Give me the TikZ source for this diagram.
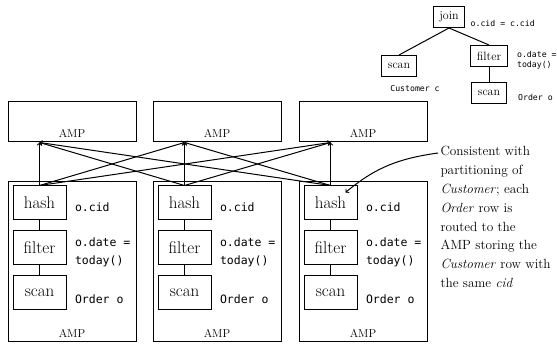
\documentclass[tikz,border=0pt]{standalone}
\usepackage{fontspec}
\setmonofont{DejaVu Sans Mono}
\usepackage{tikz}
\usetikzlibrary{arrows,calc,positioning}

\begin{document}
\begin{tikzpicture}[x=1pt,y=1pt,line width=1pt,>=to,
		ampbox/.style={draw,minimum width=128pt,minimum height=40pt,inner sep=0pt},
		nodebox/.style={draw,minimum width=128pt,minimum height=160pt,inner sep=0pt},
		op/.style={draw,minimum width=53pt,minimum height=34pt,inner sep=0pt,font=\fontsize{17}{20}\selectfont},
		amptext/.style={anchor=south,inner sep=4.5pt,font=\fontsize{11.5}{14}\selectfont},
		code/.style={anchor=west,align=left,inner sep=0pt,font=\ttfamily\fontsize{11.5}{18}\selectfont},
		treeop/.style={draw,inner xsep=6pt,inner ysep=0pt,minimum height=21pt,font=\fontsize{12}{14}\selectfont},
		treecode/.style={inner sep=0pt,align=left,font=\ttfamily\fontsize{8.2}{10}\selectfont}]
			\useasboundingbox (0,0) rectangle (557,345);
			% query plan
			\node[treeop] (Join) at (449,328) {join};
			\node[treeop] (ScanC) at (399,279) {scan};
			\node[treeop] (FilterO) at (489,289) {filter};
			\node[treeop] (ScanO) at (489,252) {scan};
			\node[treecode,anchor=base west] (JoinCond) at ($(Join.south east)+(5,1)$) {o.cid = c.cid};
			\node[treecode] (CustRel) at ($(ScanC.south)+(16,-12)$) {Customer c};
			\node[treecode,anchor=west] (FilterCond) at ($(FilterO.east)+(9,-4)$) {o.date =\\today()};
			\node[treecode,anchor=west] (OrderRel) at ($(ScanO.east)+(11,-4)$) {Order o};
			\draw (Join.south) -- (ScanC.north);
			\draw (Join.south) -- (FilterO.north);
			\draw (FilterO) -- (ScanO);
			% receiving AMPs
			\node[ampbox] (AmpT1) at (72,223) {};
			\node[ampbox] (AmpT2) at (217,223) {};
			\node[ampbox] (AmpT3) at (363,223) {};
			\node[amptext] (AmpTxt1) at (AmpT1.south) {AMP};
			\node[amptext] (AmpTxt2) at (AmpT2.south) {AMP};
			\node[amptext] (AmpTxt3) at (AmpT3.south) {AMP};
			% sending AMPs
			\node[nodebox] (Amp1) at (72,83) {};
			\node[nodebox] (Amp2) at (217,83) {};
			\node[nodebox] (Amp3) at (363,83) {};
			\node[amptext] (AmpBTxt1) at (Amp1.south) {AMP};
			\node[amptext] (AmpBTxt2) at (Amp2.south) {AMP};
			\node[amptext] (AmpBTxt3) at (Amp3.south) {AMP};
			\node[op,below right=4pt and 5pt of Amp1.north west] (Hash1) {hash};
			\node[op,below=10pt of Hash1] (Filter1) {filter};
			\node[op,below=10pt of Filter1] (Scan1) {scan};
			\node[op,below right=4pt and 5pt of Amp2.north west] (Hash2) {hash};
			\node[op,below=10pt of Hash2] (Filter2) {filter};
			\node[op,below=10pt of Filter2] (Scan2) {scan};
			\node[op,below right=4pt and 5pt of Amp3.north west] (Hash3) {hash};
			\node[op,below=10pt of Hash3] (Filter3) {filter};
			\node[op,below=10pt of Filter3] (Scan3) {scan};
			\node[code] (HashKey1) at ($(Hash1.east)+(8,-4.5)$) {o.cid};
			\node[code] (FilterKey1) at ($(Filter1.east)+(8,-4.5)$) {o.date =\\today()};
			\node[code] (ScanRel1) at ($(Scan1.east)+(8,-6.5)$) {Order o};
			\node[code] (HashKey2) at ($(Hash2.east)+(8,-4.5)$) {o.cid};
			\node[code] (FilterKey2) at ($(Filter2.east)+(8,-4.5)$) {o.date =\\today()};
			\node[code] (ScanRel2) at ($(Scan2.east)+(8,-6.5)$) {Order o};
			\node[code] (HashKey3) at ($(Hash3.east)+(8,-4.5)$) {o.cid};
			\node[code] (FilterKey3) at ($(Filter3.east)+(8,-4.5)$) {o.date =\\today()};
			\node[code] (ScanRel3) at ($(Scan3.east)+(8,-6.5)$) {Order o};
			\draw (Hash1) -- (Filter1);
			\draw (Filter1) -- (Scan1);
			\draw (Hash2) -- (Filter2);
			\draw (Filter2) -- (Scan2);
			\draw (Hash3) -- (Filter3);
			\draw (Filter3) -- (Scan3);
			% redistribution on o.cid
			\draw[->] (Hash1.north) -- (AmpT1.south -| Hash1.north);
			\draw[->] (Hash1.north) -- (AmpT2.south -| Hash2.north);
			\draw[->] (Hash1.north) -- (AmpT3.south -| Hash3.north);
			\draw[->] (Hash2.north) -- (AmpT1.south -| Hash1.north);
			\draw[->] (Hash2.north) -- (AmpT2.south -| Hash2.north);
			\draw[->] (Hash2.north) -- (AmpT3.south -| Hash3.north);
			\draw[->] (Hash3.north) -- (AmpT1.south -| Hash1.north);
			\draw[->] (Hash3.north) -- (AmpT2.south -| Hash2.north);
			\draw[->] (Hash3.north) -- (AmpT3.south -| Hash3.north);
			% note
			\node[anchor=north west,inner sep=0pt,align=left,font=\fontsize{13.3}{18.8}\selectfont] (Note) at (440,199)
				{Consistent with\\partitioning of\\\textit{Customer}; each\\\textit{Order} row is\\routed to the\\AMP storing the\\\textit{Customer} row with\\the same \textit{cid}};
			\coordinate (NoteStart) at ($(Note.north west)+(-2,-7)$);
			\coordinate (NoteTip) at ($(Hash3.north east)+(-12,-7)$);
			\draw[->] (NoteStart) to[out=188,in=40] (NoteTip);
		\end{tikzpicture}
\end{document}
